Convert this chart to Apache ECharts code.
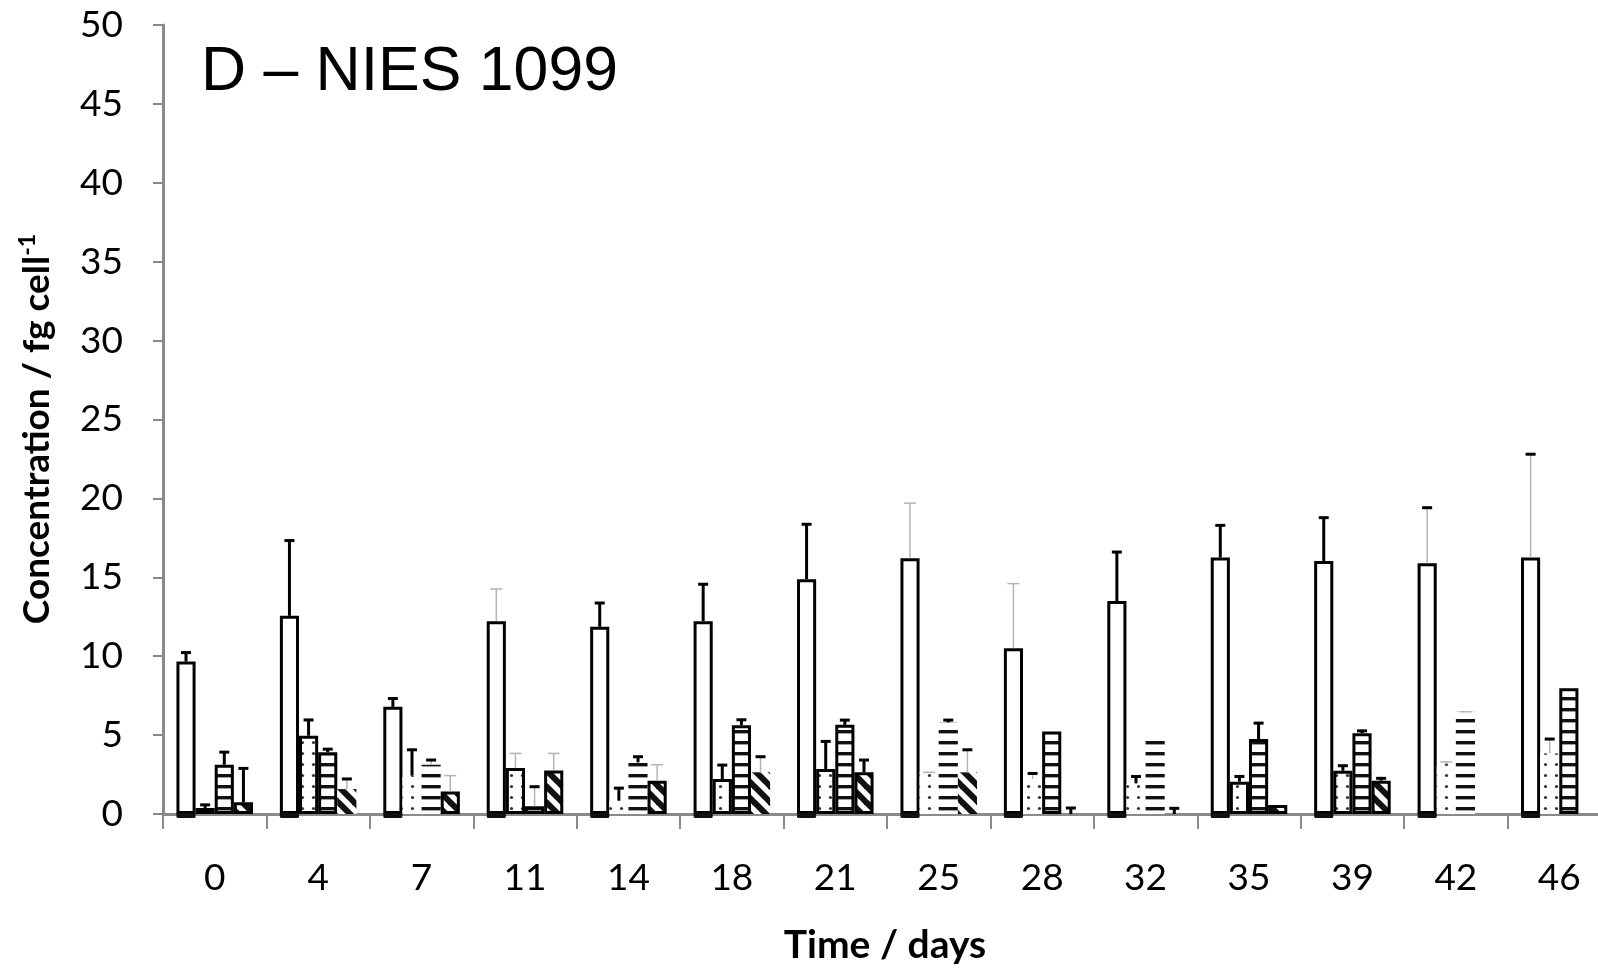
<!DOCTYPE html>
<html>
<head>
<meta charset="utf-8">
<title>D – NIES 1099</title>
<script src="https://cdn.jsdelivr.net/npm/echarts@6/dist/echarts.min.js"></script>
<style>
  html, body { margin: 0; padding: 0; background: #fff; }
  #chart { width: 1598px; height: 970px; }
</style>
</head>
<body>
<div id="chart"></div>
<script>
// Sampling days (x categories)
const days = ['0', '4', '7', '11', '14', '18', '21', '25', '28', '32', '35', '39', '42', '46'];

// Mean concentrations (fg cell^-1) for the four measured series
const seriesA = [9.66, 12.56, 6.79, 12.22, 11.86, 12.22, 14.87, 16.2, 10.5, 13.5, 16.25, 16.03, 15.89, 16.25];
const seriesB = [0.38, 4.96, 2.43, 2.91, 0.84, 2.22, 2.85, 2.64, 2.22, 1.94, 2.05, 2.74, 3.2, 3.84];
const seriesC = [3.12, 3.92, 3.12, 0.49, 3.27, 5.63, 5.65, 5.8, 5.23, 4.79, 4.75, 5.11, 6.48, 7.97];
const seriesD = [0.74, 1.58, 1.43, 2.76, 2.11, 2.64, 2.64, 2.64, 0, 0, 0.57, 2.11, null, null];

// Upper standard deviations
const errA = [0.57, 4.77, 0.53, 2.04, 1.51, 2.34, 3.49, 3.5, 4.1, 3.1, 2.04, 2.75, 3.52, 6.55];
const errB = [0.2, 1.0, 1.64, 0.93, 0.8, 0.88, 1.75, 0, 0.35, 0.44, 0.33, 0.32, 0.1, 0.91];
const errC = [0.8, 0.19, 0.3, 1.24, 0.36, 0.34, 0.3, 0.15, 0, 0, 1.01, 0.16, 0, 0];
const errD = [2.15, 0.64, 1.0, 1.08, 1.01, 0.99, 0.78, 1.43, 0.38, 0.36, 0, 0.15, 0, 0];

// ---- per-bar drawing styles (outline on/off, whisker look) ----
const outlineA = [1, 1, 1, 1, 1, 1, 1, 1, 1, 1, 1, 1, 1, 1];
const outlineB = [1, 1, 0, 1, 0, 1, 1, 0, 0, 0, 1, 1, 0, 0];
const outlineC = [1, 1, 0, 1, 0, 1, 1, 0, 1, 0, 1, 1, 0, 1];
const outlineD = [1, 0, 1, 1, 1, 0, 1, 0, 0, 0, 1, 1, 0, 0];
// k = black whisker, g = thin grey whisker, gk = grey stem with black cap, '' = none
const whiskA = ['k', 'k', 'k', 'g', 'k', 'k', 'k', 'g', 'g', 'k', 'k', 'k', 'gk', 'gk'];
const whiskB = ['k', 'k', 'k', 'g', 'k', 'k', 'k', 'g', 'gk', 'k', 'k', 'k', 'g', 'gk'];
const whiskC = ['k', 'k', 'gk', 'gk', 'k', 'k', 'k', 'k', '', '', 'k', 'k', 'g', ''];
const whiskD = ['k', 'gk', 'g', 'g', 'g', 'gk', 'k', 'gk', 'k', 'k', '', 'k', '', ''];

const values = [seriesA, seriesB, seriesC, seriesD];
const errors = [errA, errB, errC, errD];
const outlines = [outlineA, outlineB, outlineC, outlineD];
const whiskers = [whiskA, whiskB, whiskC, whiskD];

const BAR_CAT_GAP = '26%';
const INK = '#000';
const AXIS_GREY = '#8a8a8a';
const WHISK_GREY = '#b4b4b4';

// ---- fill patterns ----
function makeTile(size, draw) {
  const c = document.createElement('canvas');
  c.width = size; c.height = size;
  const ctx = c.getContext('2d');
  ctx.fillStyle = '#fff';
  ctx.fillRect(0, 0, size, size);
  draw(ctx, size);
  return { image: c, repeat: 'repeat' };
}
const fillOpen = '#ffffff';
const fillDots = makeTile(11, (ctx) => {
  ctx.fillStyle = '#333';
  ctx.beginPath();
  ctx.arc(5.5, 5.5, 1.6, 0, Math.PI * 2);
  ctx.fill();
});
const fillStripes = makeTile(11, (ctx, s) => {
  ctx.fillStyle = '#111';
  ctx.fillRect(0, 4, s, 3.4);
});
const fillDiagonal = makeTile(16, (ctx, s) => {
  ctx.strokeStyle = '#111';
  ctx.lineWidth = 6;
  for (let k = -1; k <= 1; k++) {
    ctx.beginPath();
    ctx.moveTo(k * s - 2, -2);
    ctx.lineTo(k * s + s + 2, s + 2);
    ctx.stroke();
  }
});
const fills = [fillOpen, fillDots, fillStripes, fillDiagonal];

// ---- bar series ----
const barSeries = values.map((vals, s) => ({
  type: 'bar',
  name: 'S' + (s + 1),
  barGap: '0%',
  barCategoryGap: BAR_CAT_GAP,
  z: 2,
  data: vals.map((v, i) => (v === null ? null : {
    value: v,
    itemStyle: {
      color: fills[s],
      borderColor: INK,
      borderWidth: outlines[s][i] ? 3 : 0
    }
  }))
}));

// ---- whiskers (upper error bars) ----
const whiskerData = [];
const whiskerInfo = [];
values.forEach((vals, s) => {
  vals.forEach((v, i) => {
    const kind = whiskers[s][i];
    if (v === null || !kind) return;
    whiskerData.push([i, v, v + errors[s][i]]);
    whiskerInfo.push({ s, kind });
  });
});

function renderWhisker(params, api) {
  const info = whiskerInfo[params.dataIndex];
  const layout = api.barLayout({ barGap: '0%', barCategoryGap: BAR_CAT_GAP, count: 4 });
  const cat = api.value(0);
  const lo = api.coord([cat, api.value(1)]);
  const hi = api.coord([cat, api.value(2)]);
  const x = lo[0] + layout[info.s].offsetCenter;
  const stemBlack = info.kind === 'k';
  const capBlack = info.kind !== 'g';
  const children = [];
  if (hi[1] < lo[1] - 1) {
    children.push({
      type: 'line',
      shape: { x1: x, y1: lo[1], x2: x, y2: hi[1] },
      style: { stroke: stemBlack ? INK : WHISK_GREY, lineWidth: stemBlack ? 3 : 1.5 }
    });
  }
  const half = capBlack ? 5 : 6;
  children.push({
    type: 'line',
    shape: { x1: x - half, y1: hi[1], x2: x + half, y2: hi[1] },
    style: { stroke: capBlack ? INK : WHISK_GREY, lineWidth: capBlack ? 3 : 1.5 }
  });
  return { type: 'group', children };
}

// dark foot under each open bar, just below the baseline
function renderFoot(params, api) {
  const layout = api.barLayout({ barGap: '0%', barCategoryGap: BAR_CAT_GAP, count: 4 });
  const cat = api.value(0);
  const base = api.coord([cat, 0]);
  const w = layout[0].width;
  const x = base[0] + layout[0].offsetCenter - w / 2;
  return {
    type: 'rect',
    shape: { x: x, y: base[1] - 1, width: w, height: 5, r: 1.5 },
    style: { fill: '#111' }
  };
}

const chart = echarts.init(document.getElementById('chart'), null, { renderer: 'canvas' });

chart.setOption({
  animation: false,
  backgroundColor: '#fff',
  // the category axis runs on slightly past the right edge of the page
  grid: {
    left: 163, width: 1448, top: 25, bottom: 156,
    containLabel: false,
    outerBoundsMode: 'none'
  },
  xAxis: {
    type: 'category',
    data: days,
    axisLine: { lineStyle: { color: AXIS_GREY, width: 3 } },
    axisTick: { show: true, length: 15, lineStyle: { color: AXIS_GREY, width: 2 } },
    axisLabel: { color: '#000', fontFamily: 'Lato', fontSize: 37, margin: 46 },
    splitLine: { show: false }
  },
  yAxis: {
    type: 'value',
    min: 0, max: 50, interval: 5,
    axisLine: { show: true, lineStyle: { color: AXIS_GREY, width: 3 } },
    axisTick: { show: true, length: 10, lineStyle: { color: AXIS_GREY, width: 2 } },
    axisLabel: { color: '#000', fontFamily: 'Lato', fontSize: 37, margin: 40 },
    splitLine: { show: false }
  },
  series: barSeries.concat([
    {
      type: 'custom',
      name: 'foot',
      z: 3,
      renderItem: renderFoot,
      data: days.map((d, i) => [i, 0]),
      encode: { x: 0, y: 1 },
      clip: false,
      silent: true
    },
    {
      type: 'custom',
      name: 'whiskers',
      z: 4,
      renderItem: renderWhisker,
      data: whiskerData,
      encode: { x: 0, y: [1, 2] },
      silent: true
    }
  ]),
  graphic: [
    {
      type: 'text',
      x: 201, y: 73,
      style: {
        text: 'D – NIES 1099',
        font: '62.5px "Liberation Sans", Arial, sans-serif',
        fill: '#000',
        align: 'left',
        verticalAlign: 'middle'
      }
    },
    {
      type: 'text',
      x: 885, y: 945,
      style: {
        text: 'Time / days',
        font: 'bold 39px Lato, sans-serif',
        fill: '#000',
        align: 'center',
        verticalAlign: 'middle'
      }
    },
    {
      type: 'text',
      x: 36, y: 429,
      rotation: Math.PI / 2,
      style: {
        text: '{b|Concentration / fg cell}{s|-1}',
        align: 'center',
        verticalAlign: 'middle',
        rich: {
          b: { font: 'bold 37px Lato, sans-serif', fill: '#000', lineHeight: 40, verticalAlign: 'bottom' },
          s: { font: 'bold 23px Lato, sans-serif', fill: '#000', lineHeight: 40, verticalAlign: 'top' }
        }
      }
    }
  ]
});
</script>
</body>
</html>
